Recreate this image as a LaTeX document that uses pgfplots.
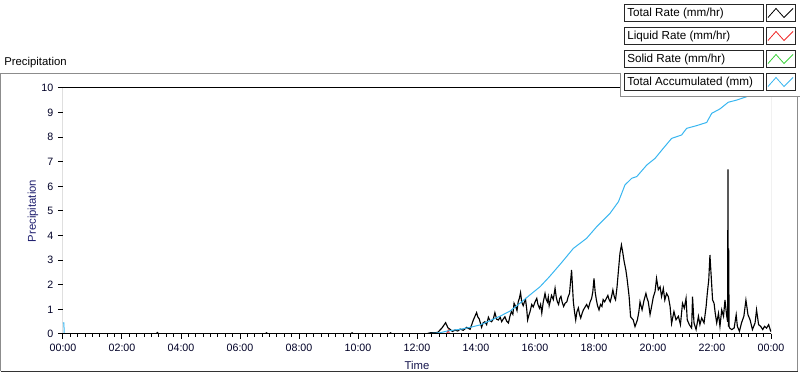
\documentclass[border=0pt]{standalone}
\usepackage{pgfplots}
\pgfplotsset{compat=1.18}
\usepackage{fontspec}
\setmainfont{Liberation Sans}
\definecolor{accblue}{RGB}{56,182,240}
\definecolor{liqred}{RGB}{240,40,40}
\definecolor{solgreen}{RGB}{60,210,60}
\definecolor{labnavy}{RGB}{30,30,110}
\definecolor{framegray}{RGB}{140,140,140}
\begin{document}
\begin{tikzpicture}
\begin{axis}[
  at={(47.25pt,-250.5pt)}, anchor=south west,
  scale only axis, width=531pt, height=184.5pt,
  xmin=0, xmax=24, ymin=0, ymax=10,
  axis line style={draw=none},
  xtick={0,2,...,24},
  xticklabels={00:00,02:00,04:00,06:00,08:00,10:00,12:00,14:00,16:00,18:00,20:00,22:00,00:00},
  minor x tick num=7,
  ytick={0,1,...,10},
  xtick pos=bottom, ytick pos=left,
  tick align=outside,
  major tick length=3.75pt, minor tick length=2.25pt,
  tick style={black, line width=0.75pt},
  /pgf/number format/assume math mode=true,
  ticklabel style={font=\fontsize{8}{9.5}\selectfont, text=black!85!blue},
  xlabel={Time}, ylabel={Precipitation},
  xlabel style={font=\fontsize{8.5}{10}\selectfont, text=labnavy!70!black, at={(rel axis cs:0.5,0)}, anchor=center, yshift=-23.25pt},
  ylabel style={font=\fontsize{8.5}{10}\selectfont, text=labnavy, at={(rel axis cs:0,0.5)}, anchor=center, rotate=0, yshift=22.5pt},
]
% Total rate
\addplot[black, line width=0.85pt] coordinates {
(0,0) (3.15,0) (3.2,0.06) (3.25,0) (6.85,0) (6.9,0.05) (6.95,0) (9.75,0) (9.8,0.05) (9.85,0)
(11.05,0) (11.1,0.05) (11.15,0) (12.3,0) (12.45,0.05) (12.7,0.06) (12.85,0.25) (12.97,0.46)
(13.05,0.25) (13.12,0.19) (13.2,0.1) (13.29,0.16) (13.38,0.12) (13.46,0.2) (13.57,0.15) (13.68,0.27) (13.8,0.19) (13.91,0.57)
(14.02,0.87) (14.06,0.7) (14.11,0.61) (14.19,0.27) (14.24,0.45) (14.3,0.5) (14.36,0.38) (14.42,0.68) (14.47,0.55) (14.53,0.5) (14.59,0.62) (14.64,0.87)
(14.7,0.6) (14.76,0.57) (14.82,0.68) (14.87,0.5) (14.93,0.62) (14.98,0.7) (15.04,0.52) (15.1,0.45) (15.15,0.72) (15.2,0.91) (15.25,0.8) (15.29,1.25) (15.35,1.1)
(15.39,0.95) (15.43,1.3) (15.47,1.45) (15.51,1.68) (15.55,1.3) (15.6,1.15) (15.64,1.3) (15.68,1.4) (15.72,1.0) (15.75,0.57) (15.79,0.75) (15.83,0.9) (15.89,1.2) (15.94,1.1)
(16.0,1.3) (16.06,1.45) (16.1,1.2) (16.15,1.05) (16.19,1.2) (16.23,0.85) (16.28,1.3) (16.34,1.65) (16.38,1.4) (16.42,1.3) (16.45,1.5) (16.48,1.15) (16.52,1.35) (16.56,1.57)
(16.62,1.4) (16.68,1.86) (16.72,1.5) (16.76,1.3) (16.8,1.2) (16.84,1.45) (16.88,1.53) (16.92,1.3) (16.97,1.12) (17.02,1.25) (17.08,1.31) (17.12,1.5) (17.17,1.65) (17.24,2.6)
(17.3,1.31) (17.34,0.9) (17.38,0.57) (17.42,0.9) (17.47,1.06) (17.51,0.8) (17.55,0.65) (17.6,0.85) (17.64,0.98) (17.7,1.1) (17.75,1.2) (17.81,1.05) (17.87,1.31)
(17.92,1.45) (17.96,1.72) (18.0,2.26) (18.04,1.7) (18.08,1.39) (18.12,1.15) (18.17,0.98) (18.22,1.2) (18.27,1.12) (18.31,1.4) (18.36,1.31) (18.42,1.45) (18.47,1.57)
(18.51,1.4) (18.55,1.31) (18.6,1.55) (18.64,1.79) (18.69,1.5) (18.73,1.39) (18.78,1.9) (18.83,2.6) (18.88,3.28) (18.93,3.62) (18.97,3.35)
(19.02,2.96) (19.08,2.6) (19.12,2.26) (19.19,1.53) (19.24,0.7) (19.33,0.57) (19.39,0.3)
(19.47,0.57) (19.52,0.9) (19.56,1.31) (19.63,0.98) (19.7,1.39) (19.76,1.65) (19.8,1.45) (19.84,1.31) (19.9,0.79)
(19.95,1.1) (20.01,1.5) (20.07,1.73) (20.12,2.26) (20.18,1.8) (20.24,1.92) (20.29,1.52) (20.35,1.85)
(20.4,1.38) (20.46,1.65) (20.52,1.52) (20.58,1.11) (20.63,0.43) (20.71,0.91) (20.78,0.58)
(20.86,0.72) (20.93,0.38) (21.0,1.25) (21.06,1.05) (21.12,1.45) (21.16,0.58) (21.23,0.38)
(21.31,0.24) (21.34,1.52) (21.39,0.45) (21.46,0.18) (21.54,0.72) (21.59,0.38) (21.65,0.65)
(21.73,0.45) (21.8,1.11) (21.84,1.65) (21.89,2.2) (21.93,3.21) (21.98,2.2) (22.02,1.38)
(22.07,1.25) (22.11,0.84) (22.16,0.45) (22.22,0.84) (22.27,0.31) (22.33,0.98) (22.39,0.72)
(22.44,1.38) (22.5,0.72) (22.53,0.5) (22.54,6.69) (22.555,0.3) (22.565,3.48) (22.58,0.3)
(22.6,0.24) (22.67,0.18) (22.75,0.24) (22.82,0.78) (22.86,0.31) (22.93,0.11) (23.0,0.45)
(23.08,0.72) (23.15,1.38) (23.22,0.78) (23.29,0.58) (23.37,0.18) (23.46,0.45) (23.51,0.98)
(23.58,0.38) (23.65,0.31) (23.72,0.18) (23.78,0.31) (23.85,0.24) (23.92,0.38) (23.98,0.15) (24,0.1)
};
% Liquid rate
\addplot[liqred, line width=0.75pt] coordinates {
(13.0,0) (13.06,0.16) (13.1,0) (24,0)
};
% Solid rate
\addplot[solgreen, line width=0.9pt] coordinates {
(13.0,0) (24,0)
};
% Total accumulated
\addplot[accblue, line width=0.75pt] coordinates {
(0,0.45) (0.03,0.45) (0.04,0) (12.4,0.02) (12.78,0.05) (13.06,0.13) (13.46,0.19) (13.8,0.27)
(14.14,0.37) (14.47,0.54) (14.81,0.72) (15.15,0.93) (15.49,1.25) (15.83,1.59) (16.17,1.92)
(16.49,2.33) (16.9,2.9) (17.3,3.48) (17.75,3.89) (18.09,4.36) (18.54,4.9) (18.83,5.38)
(19.05,6.06) (19.28,6.33) (19.45,6.4) (19.79,6.87) (20.07,7.14) (20.35,7.55) (20.63,7.95)
(20.97,8.09) (21.14,8.36) (21.48,8.47) (21.82,8.6) (21.99,8.97) (22.27,9.15) (22.55,9.42)
(22.84,9.51) (23.23,9.67) (23.6,9.85) (24,10.05)
};
\draw[black, line width=0.75pt] (rel axis cs:0,0) -- (rel axis cs:0,1) -- (rel axis cs:1,1);
\draw[framegray, line width=0.75pt] (rel axis cs:1,1) -- (rel axis cs:1,0);
\draw[black, line width=0.75pt] (rel axis cs:0,0) -- (rel axis cs:1,0);
\end{axis}
\begin{scope}[x=0.75pt, y=-0.75pt]
  % outer frame
  \draw[framegray, line width=0.75pt] (0.5,371.5) -- (0.5,73.5) -- (797.5,73.5) -- (797.5,371.5);
  \draw[black!80, line width=0.75pt] (0.5,371.5) -- (797.5,371.5);
  \node[anchor=west, inner sep=0pt, font=\fontsize{8.5}{10}\selectfont] at (4,63) {Precipitation};
  % legend panel
  \fill[white] (620,0) rectangle (800,96.5);
  \draw[framegray, line width=0.75pt] (620.5,73) -- (620.5,96.5) -- (800,96.5);
  \foreach \r/\txt/\col in {0/{Total Rate (mm/hr)}/black, 1/{Liquid Rate (mm/hr)}/liqred, 2/{Solid Rate (mm/hr)}/solgreen, 3/{Total Accumulated (mm)}/accblue} {
    \pgfmathsetmacro{\yt}{4.5+23*\r}
    \pgfmathsetmacro{\yb}{21.5+23*\r}
    \pgfmathsetmacro{\ym}{13+23*\r}
    \draw[black!85, line width=0.75pt] (624.5,\yt) rectangle (763.5,\yb);
    \draw[black!85, line width=0.75pt] (766.5,\yt) rectangle (795.5,\yb);
    \node[anchor=west, inner sep=0pt, font=\fontsize{8.75}{10}\selectfont] at (627,\ym) {\txt};
    \draw[\col, line width=0.6pt] (768,\yb-4) -- (776,\yt+4) -- (784,\yb-4) -- (793,\yt+4);
  }
\end{scope}
\pgfresetboundingbox
\path[use as bounding box] (0,0) rectangle (600pt,-279.75pt);
\end{tikzpicture}
\end{document}
